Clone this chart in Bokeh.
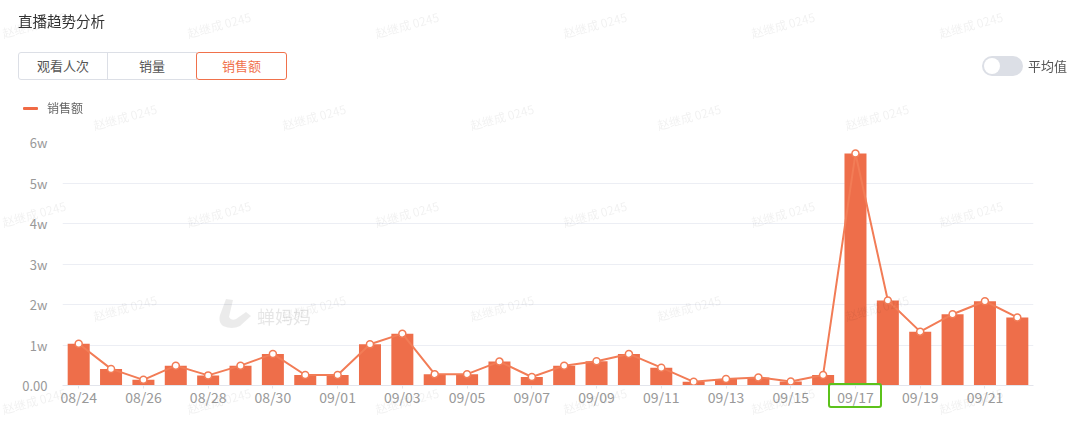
from bokeh.plotting import figure
from bokeh.models import ColumnDataSource, Range1d, FixedTicker, Div
from bokeh.layouts import column
from bokeh.embed import file_html
from bokeh.resources import INLINE

# ---------------- data ----------------
dates = ["08/24", "08/25", "08/26", "08/27", "08/28", "08/29", "08/30", "08/31",
         "09/01", "09/02", "09/03", "09/04", "09/05", "09/06", "09/07", "09/08",
         "09/09", "09/10", "09/11", "09/12", "09/13", "09/14", "09/15", "09/16",
         "09/17", "09/18", "09/19", "09/20", "09/21", "09/22"]
sales = [10300, 4100, 1400, 4900, 2500, 4900, 7800, 2600,
         2600, 10200, 12800, 2800, 2800, 5900, 2100, 4900,
         6000, 7800, 4400, 900, 1600, 2000, 1000, 2600,
         57300, 21000, 13300, 17600, 20800, 16800]
y_ticks = [0, 10000, 20000, 30000, 40000, 50000, 60000]
y_tick_labels = ["0.00", "1w", "2w", "3w", "4w", "5w", "6w"]
tabs = ["观看人次", "销量", "销售额"]
active_tab = "销售额"
highlight_date = "09/17"
series_name = "销售额"
title_text = "直播趋势分析"
toggle_text = "平均值"
watermark = "赵继成 0245"
logo_text = "蝉妈妈"

FONT = "Noto Sans CJK SC"
BAR = "#ee6e4a"
LINE = "#f27c56"
ORANGE_TXT = "#f0714b"
W, H = 1080, 438
FL, FR, FT, FB = 62, 1033, 142, 385   # frame edges (page px)

idx = list(range(len(dates)))
src = ColumnDataSource(dict(i=idx, date=dates, sales=sales))

p = figure(width=W, height=H, x_range=Range1d(-0.5, len(dates) - 0.5),
           y_range=Range1d(y_ticks[0], y_ticks[-1]),
           output_backend="svg", toolbar_location=None,
           min_border_left=FL, min_border_right=W - FR, min_border_top=FT,
           min_border_bottom=H - FB, outline_line_color=None)

# data marks
p.vbar(x="i", top="sales", width=0.68, source=src, fill_color=BAR, line_color=None)
p.line(x="i", y="sales", source=src, line_color=LINE, line_width=2)
p.scatter(x="i", y="sales", source=src, size=7, fill_color="white",
          line_color=LINE, line_width=1.5)

# axes
p.yaxis.ticker = FixedTicker(ticks=y_ticks, minor_ticks=[])
p.yaxis.major_label_overrides = {t: l for t, l in zip(y_ticks, y_tick_labels)}
p.yaxis.axis_line_color = None
p.yaxis.major_tick_line_color = None
p.yaxis.minor_tick_line_color = None
p.yaxis.major_label_standoff = 9
p.yaxis.major_label_text_font_size = "13px"
shown = idx[::2]
p.xaxis.ticker = FixedTicker(ticks=shown, minor_ticks=[])
p.xaxis.major_label_overrides = {i: dates[i] for i in shown}
p.xaxis.axis_line_color = "#e3e5ec"
p.xaxis.major_tick_line_color = "#e3e5ec"
p.xaxis.minor_tick_line_color = None
p.xaxis.major_tick_out = 3
p.xaxis.major_tick_in = 0
p.xaxis.major_label_standoff = -2
p.xaxis.major_label_text_font_size = "14px"
for ax in (p.xaxis, p.yaxis):
    ax.major_label_text_font = FONT
    ax.major_label_text_color = "#999999"
p.xgrid.grid_line_color = None
p.ygrid.grid_line_color = "#eceef4"
p.ygrid.grid_line_width = 1

# ---------------- page overlay (header, legend, highlight, watermarks) ----------------


def at(x, y):
    return f"position:fixed;left:{x}px;top:{y}px;margin:0;"


def txt(x, cy, s, size, color, lh=20, extra=""):
    return (f'<div style="{at(x, cy - lh / 2)}height:{lh}px;line-height:{lh}px;'
            f'font-size:{size};color:{color};white-space:nowrap;{extra}">{s}</div>')


parts = []
# watermarks
wm_a = [34, 219, 407, 595, 783, 971]
wm_b = [125, 314, 502, 689, 877]
for yy, xs in [(25, wm_a), (117, wm_b), (214, wm_a), (308, wm_b), (401, wm_a)]:
    for xx in xs:
        parts.append(f'<div style="{at(xx, yy)}transform:translate(-50%,-50%) rotate(-15deg);'
                     f'font-size:12px;line-height:14px;color:rgba(0,0,0,0.06);'
                     f'white-space:nowrap;">{watermark}</div>')
# logo
parts.append(f'<svg style="{at(217, 297)}" width="36" height="32" viewBox="0 0 36 32">'
             f'<path d="M9 2 L16 3 L12 20 Q14 24 19 22 L29 15 L34 19 L23 29 Q15 33 6 29 '
             f'Q1 25 3 18 Z" fill="rgba(0,0,0,0.08)"/></svg>')
parts.append(txt(257, 316, logo_text, "18px", "rgba(0,0,0,0.1)", lh=24))

# title
parts.append(txt(18, 21, title_text, "14.5px", "#333333"))
# tab buttons
btn_left = [18, 107, 196]
btn_w = [90, 90, 91]
order = [i for i, t in enumerate(tabs) if t != active_tab] + \
        [i for i, t in enumerate(tabs) if t == active_tab]
for i in order:
    act = tabs[i] == active_tab
    rad = "3px" if act else ("3px 0 0 3px" if i == 0 else "0")
    col = ORANGE_TXT if act else "#dcdfe6"
    tcol = ORANGE_TXT if act else "#555555"
    parts.append(f'<div style="{at(btn_left[i], 52)}box-sizing:border-box;width:{btn_w[i]}px;'
                 f'height:28px;border:1px solid {col};border-radius:{rad};background:#fff;'
                 f'text-align:center;line-height:26px;font-size:13px;color:{tcol};">{tabs[i]}</div>')
# toggle
parts.append(f'<div style="{at(982, 56)}width:41px;height:20px;border-radius:10px;background:#dcdfe6;"></div>')
parts.append(f'<div style="{at(984, 58)}width:16px;height:16px;border-radius:8px;background:#fff;"></div>')
parts.append(txt(1028, 66, toggle_text, "13px", "#555555"))
# legend
parts.append(f'<div style="{at(23, 106.5)}width:15px;height:3px;border-radius:1px;background:#f06a45;"></div>')
parts.append(txt(47, 108, series_name, "12px", "#666666"))
# highlight around the selected date label
hx = FL + (dates.index(highlight_date) + 0.5) * (FR - FL) / len(dates)
parts.append(f'<div style="{at(hx - 27, 383)}box-sizing:border-box;width:54px;height:25px;'
             f'border:2.5px solid #5cc21b;border-radius:3px;"></div>')

html = (f'<div style="width:{W}px;height:0;font-family:\'{FONT}\';">'
        + "".join(parts) + '</div>')
overlay = Div(text=html, width=W, height=1, margin=0,
              styles={"overflow": "visible", "z-index": "10", "position": "relative"})

layout = column(p, overlay, spacing=0)
open("out.html", "w").write(file_html(layout, INLINE))
